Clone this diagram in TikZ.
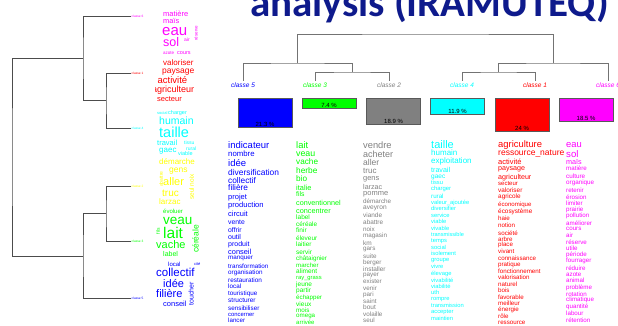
\documentclass[tikz,border=0pt]{standalone}
\usepackage{fontspec}
\setmainfont{Liberation Sans}
\newfontfamily\titlefont{Carlito}
\definecolor{cmag}{RGB}{255,0,255}
\definecolor{cred}{RGB}{255,0,0}
\definecolor{ccyan}{RGB}{0,255,255}
\definecolor{cyel}{RGB}{255,255,0}
\definecolor{cgreen}{RGB}{0,255,0}
\definecolor{cblue}{RGB}{0,0,255}
\definecolor{cgrey}{RGB}{128,128,128}
\definecolor{ttl}{RGB}{14,26,140}
\newcounter{wn}
\newcommand\W[4]{\stepcounter{wn}\node[word,font=\fontsize{#3}{#3}\selectfont] (w\arabic{wn}) at ({#1},{#2+0.3*#3}) {#4};}
\newcommand\Rw[4]{\stepcounter{wn}\node[inner sep=0pt,rotate=90,font=\fontsize{#3}{#3}\selectfont] (w\arabic{wn}) at (#1,#2) {#4};}
\tikzset{
  dline/.style={draw=black!70, line width=0.8pt},
  tline/.style={draw=black!55, line width=0.9pt},
  word/.style={inner sep=0pt, anchor=base west},
  pct/.style={inner sep=0.6pt, anchor=south, font=\fontsize{6}{6}\selectfont, text=black},
  cls/.style={inner sep=1.5pt, font=\fontsize{6.5}{6.5}\selectfont\itshape},
  tinycls/.style={inner sep=0.5pt, anchor=west, font=\fontsize{3.2}{3.2}\selectfont},
  bar/.style={draw=black!65, line width=0.8pt, minimum width=54pt, inner sep=0pt, anchor=north},
}
\begin{document}
\begin{tikzpicture}[x=1pt,y=-1pt]
\useasboundingbox (0,0) rectangle (618,325);
\fill[white] (0,0) rectangle (618,325);

% title (cut at top)
\node[anchor=base west, inner sep=0pt, text=ttl, font=\titlefont\bfseries\fontsize{41}{41}\selectfont] (title) at (250,16) {analysis (IRAMUTEQ)};

% ---------- left dendrogram ----------
\node[tinycls, text=cmag]   (l6) at (131,16) {classe 6};
\node[tinycls, text=cred]   (l1) at (131,73) {classe 1};
\node[tinycls, text=ccyan]  (l4) at (131,128) {classe 4};
\node[tinycls, text=cyel]   (l2) at (131,186) {classe 2};
\node[tinycls, text=cgreen] (l3) at (131,241) {classe 3};
\node[tinycls, text=cblue]  (l5) at (131,298) {classe 5};
\coordinate (jA) at (106,100.5);
\coordinate (jB) at (83,58);
\coordinate (jC) at (106,213.5);
\coordinate (jD) at (83,256);
\coordinate (jR) at (12,157);
\draw[dline] (l6.west) -| (jB) |- (jA);
\draw[dline] (l1.west) -| (jA) |- (l4.west);
\draw[dline] (l2.west) -| (jC) |- (l3.west);
\draw[dline] (jC) -| (jD) |- (l5.west);
\draw[dline] (jB) -| (jR) |- (jD);

% ---------- left word clouds ----------
\begin{scope}
\clip (155.5,4) rectangle (205,312);
\begin{scope}[every node/.append style={text=cmag}]
\W{163}{14}{7.5}{matière}
\W{163}{21}{7.4}{maïs}
\W{162}{31}{15}{eau}
\W{163}{43}{12.5}{sol}
\W{184}{40}{5}{air}
\W{177}{52.5}{5.5}{cours}
\W{163}{53}{4.5}{azote}
\Rw{196}{33}{4.5}{réserve}
\end{scope}
\begin{scope}[every node/.append style={text=cred}]
\W{163}{63}{8}{valoriser}
\W{162}{71}{8.5}{paysage}
\W{157.5}{81}{9.5}{activité}
\W{152}{90}{9}{agriculteur}
\W{157}{99}{7.5}{secteur}
\end{scope}
\begin{scope}[every node/.append style={text=ccyan}]
\W{157}{113}{4}{social}
\W{168}{113}{5.5}{charger}
\W{159}{121.5}{10.5}{humain}
\W{159}{133}{14.5}{taille}
\W{157}{143.5}{7.5}{travail}
\W{184}{143}{5}{tissu}
\W{186}{148.5}{5}{rural}
\W{159}{150.5}{8}{gaec}
\W{178}{154}{5.5}{viable}
\end{scope}
\begin{scope}[every node/.append style={text=cyel}]
\W{159}{162}{8}{démarche}
\W{169}{170}{8.5}{gens}
\W{163}{182}{11}{aller}
\W{162}{193}{10}{truc}
\W{159}{202}{8}{larzac}
\Rw{191.5}{187}{6.5}{seul noix}
\Rw{161}{179}{5}{abattre}
\end{scope}
\begin{scope}[every node/.append style={text=cgreen}]
\W{163}{212}{6}{évoluer}
\W{163}{220.5}{13.5}{veau}
\W{163}{234}{15.5}{lait}
\W{156}{245.5}{11}{vache}
\W{163}{254.5}{7}{label}
\Rw{195.5}{239}{8.5}{céréale}
\Rw{158}{231}{5}{fils}
\end{scope}
\begin{scope}[every node/.append style={text=cblue}]
\W{168}{265}{6}{local}
\W{194}{264}{4}{cité}
\W{156}{273.5}{11.5}{collectif}
\W{163}{284}{11}{idée}
\W{156}{294}{11}{filière}
\W{163}{304.5}{7.5}{conseil}
\Rw{191}{294}{7}{toucher}
\end{scope}
\end{scope}

% ---------- top dendrogram ----------
\node[cls, text=cblue]  (t5) at (243,85) {classe 5};
\node[cls, text=cgreen] (t3) at (315,85) {classe 3};
\node[cls, text=cgrey]  (t2) at (389,85) {classe 2};
\node[cls, text=ccyan]  (t4) at (462,85) {classe 4};
\node[cls, text=cred]   (t1) at (535,85) {classe 1};
\node[cls, text=cmag]   (t6) at (608,85) {classe 6};
\coordinate (j32) at (352,72);
\coordinate (jL) at (297.5,63);
\coordinate (jT) at (425.5,34);
\coordinate (jRt) at (553,63);
\coordinate (j41) at (498.5,72);
\draw[tline] (t5.north) |- (jL) -| (j32);
\draw[tline] (t3.north) |- (j32) -| (t2.north);
\draw[tline] (jL) |- (jT) -| (jRt);
\draw[tline] (j41) |- (jRt) -| (t6.north);
\draw[tline] (t4.north) |- (j41) -| (t1.north);

% ---------- bars ----------
\node[bar, fill=cblue,  minimum height=29pt] (b5) at (265,98) {};
\node[bar, fill=cgreen, minimum height=10pt] (b3) at (329,98) {};
\node[bar, fill=cgrey,  minimum height=26pt] (b2) at (393.5,98) {};
\node[bar, fill=ccyan,  minimum height=16pt] (b4) at (457.5,98) {};
\node[bar, fill=cred,   minimum height=33pt] (b1) at (522,98) {};
\node[bar, fill=cmag,   minimum height=23pt] (b6) at (586,98) {};
\node[pct] (p5) at (b5.south) {21.3 \%};
\node[pct] (p3) at (b3.south) {7.4 \%};
\node[pct] (p2) at (b2.south) {18.9 \%};
\node[pct] (p4) at (b4.south) {11.9 \%};
\node[pct] (p1) at (b1.south) {24 \%};
\node[pct] (p6) at (b6.south) {18.5 \%};

% ---------- word columns ----------
\begin{scope}[every node/.append style={text=cblue}]
\W{228}{146}{9.5}{indicateur}
\W{228}{154}{7.8}{nombre}
\W{228}{164}{9.5}{idée}
\W{228}{173}{8.4}{diversification}
\W{228}{181}{8.3}{collectif}
\W{228}{188}{8.3}{filière}
\W{228}{197}{7.5}{projet}
\W{228}{205}{7.6}{production}
\W{228}{214}{7.5}{circuit}
\W{228}{222}{6.8}{vente}
\W{228}{230}{6.8}{offrir}
\W{228}{237}{7}{outil}
\W{228}{244}{7}{produit}
\W{228}{252}{7.4}{conseil}
\W{228}{258}{6.3}{manquer}
\W{228}{267}{6.3}{transformation}
\W{228}{273}{6.3}{organisation}
\W{228}{281}{6.4}{restauration}
\W{228}{287}{6.3}{local}
\W{228}{294}{6.3}{touristique}
\W{228}{301}{6.5}{structurer}
\W{228}{309}{6.3}{sensibiliser}
\W{228}{315}{5.9}{concerner}
\W{228}{321}{6.2}{lancer}
\end{scope}
\begin{scope}[every node/.append style={text=cgreen}]
\W{296}{146}{9.4}{lait}
\W{296}{154}{8.8}{veau}
\W{296}{162}{8.2}{vache}
\W{296}{171}{8.3}{herbe}
\W{296}{179}{8.2}{bio}
\W{296}{188}{7.4}{italie}
\W{296}{194}{6.8}{fils}
\W{296}{203}{7.2}{conventionnel}
\W{296}{211}{7.3}{concentrer}
\W{296}{218}{6.5}{label}
\W{296}{225}{6.4}{céréale}
\W{296}{231}{6.5}{finir}
\W{296}{239}{6.4}{éleveur}
\W{296}{245}{6.4}{laitier}
\W{296}{253}{6.5}{servir}
\W{296}{259}{6.3}{châtaignier}
\W{296}{266}{6.1}{marcher}
\W{296}{272}{6.5}{aliment}
\W{296}{278}{5.8}{ray\_grass}
\W{296}{285}{6.5}{jeune}
\W{296}{291}{6.5}{partir}
\W{296}{298}{6.2}{échapper}
\W{296}{305}{6.5}{vieux}
\W{296}{311}{6.3}{mois}
\W{296}{316}{6.2}{omega}
\W{296}{323}{6}{arrivée}
\end{scope}
\begin{scope}[every node/.append style={text=cgrey}]
\W{363}{146}{9.3}{vendre}
\W{363}{155}{9}{acheter}
\W{363}{163}{8.5}{aller}
\W{363}{171}{8}{truc}
\W{363}{178}{7.4}{gens}
\W{363}{187}{7.1}{larzac}
\W{363}{193}{7.5}{pomme}
\W{363}{202}{6.3}{démarche}
\W{363}{208}{6.6}{aveyron}
\W{363}{216}{6.4}{viande}
\W{363}{223}{6.4}{abattre}
\W{363}{230}{6.3}{noix}
\W{363}{236}{6.3}{magasin}
\W{363}{244}{6.5}{km}
\W{363}{249}{6.3}{gars}
\W{363}{257}{6.3}{suite}
\W{363}{263}{6.3}{berger}
\W{363}{270}{6.5}{installer}
\W{363}{275}{6.3}{payer}
\W{363}{282}{6.3}{exister}
\W{363}{289}{6.3}{venir}
\W{363}{295}{6.3}{pari}
\W{363}{302}{6.3}{saint}
\W{363}{308}{6.5}{bout}
\W{363}{315}{6.3}{volaille}
\W{363}{321}{6.3}{seul}
\end{scope}
\begin{scope}[every node/.append style={text=ccyan}]
\W{431}{145}{11}{taille}
\W{431}{153.5}{8}{humain}
\W{431}{161.5}{8}{exploitation}
\W{431}{170}{7.1}{travail}
\W{431}{177}{6.5}{gaec}
\W{431}{183}{5.7}{tissu}
\W{431}{189}{5.9}{charger}
\W{431}{197}{6.2}{rural}
\W{431}{203}{5.8}{valeur\_ajoutée}
\W{431}{209}{5.8}{diversifier}
\W{431}{216}{5.8}{service}
\W{431}{222}{5.8}{viable}
\W{431}{229}{5.8}{vivable}
\W{431}{235}{5.6}{transmissible}
\W{431}{241}{5.8}{temps}
\W{431}{248}{5.8}{social}
\W{431}{254}{5.8}{isolement}
\W{431}{260}{5.8}{groupe}
\W{431}{267}{5.8}{vivre}
\W{431}{274}{5.8}{élevage}
\W{431}{281}{5.8}{vivabilité}
\W{431}{287}{5.8}{viabilité}
\W{431}{293}{5.8}{uth}
\W{431}{299}{5.8}{rompre}
\W{431}{306}{5.8}{transmission}
\W{431}{312}{5.8}{accepter}
\W{431}{319}{5.8}{maintien}
\end{scope}
\begin{scope}[every node/.append style={text=cred}]
\W{498}{145}{9.4}{agriculture}
\W{498}{153}{8.5}{ressource\_nature}
\W{498}{162}{7.5}{activité}
\W{498}{168}{7.1}{paysage}
\W{498}{177}{7.1}{agriculteur}
\W{498}{184}{6}{secteur}
\W{498}{191}{6.4}{valoriser}
\W{498}{197}{6.4}{agricole}
\W{498}{205}{6.1}{économique}
\W{498}{212}{6.4}{écosystème}
\W{498}{219}{6.2}{haie}
\W{498}{226}{6.2}{notion}
\W{498}{234}{6.2}{société}
\W{498}{240}{6.2}{arbre}
\W{498}{245}{6.2}{place}
\W{498}{252}{6.2}{vivant}
\W{498}{259}{6.2}{connaissance}
\W{498}{265}{6.2}{pratique}
\W{498}{272}{6.2}{fonctionnement}
\W{498}{278}{6.2}{valorisation}
\W{498}{285}{6.2}{naturel}
\W{498}{291}{6.2}{bois}
\W{498}{298}{6.2}{favorable}
\W{498}{304}{6.2}{meilleur}
\W{498}{310}{6.2}{énergie}
\W{498}{317}{6.2}{rôle}
\W{498}{323}{6.2}{ressource}
\end{scope}
\begin{scope}[every node/.append style={text=cmag}]
\W{566}{145}{9.4}{eau}
\W{566}{155}{9.6}{sol}
\W{566}{162}{7.2}{maïs}
\W{566}{169}{6.2}{matière}
\W{566}{177}{6.3}{culture}
\W{566}{183}{6.3}{organique}
\W{566}{191}{6.2}{retenir}
\W{566}{198}{6.2}{érosion}
\W{566}{204}{6.2}{limiter}
\W{566}{210}{6.2}{prairie}
\W{566}{216}{6.2}{pollution}
\W{566}{224}{6.2}{améliorer}
\W{566}{229}{6.2}{cours}
\W{566}{236}{6.2}{air}
\W{566}{243}{6.2}{réserve}
\W{566}{249}{6.2}{utile}
\W{566}{255}{6.2}{période}
\W{566}{261}{6.2}{fourrager}
\W{566}{269}{6.2}{réduire}
\W{566}{275}{6.2}{azote}
\W{566}{281}{6.2}{animal}
\W{566}{288}{6.2}{problème}
\W{566}{295}{6.2}{rotation}
\W{566}{300}{6.2}{climatique}
\W{566}{307}{6.2}{quantité}
\W{566}{314}{6.2}{labour}
\W{566}{321}{6.2}{rétention}
\end{scope}
\end{tikzpicture}
\end{document}
